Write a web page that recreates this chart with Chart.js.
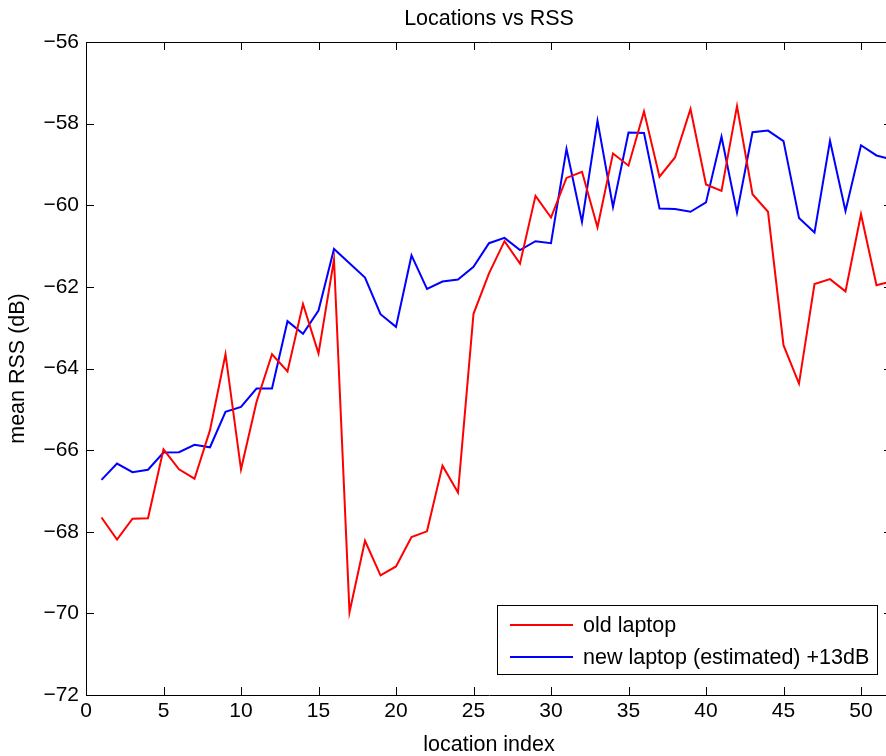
<!DOCTYPE html>
<html><head><meta charset="utf-8">
<script src="https://cdn.jsdelivr.net/npm/chart.js@4"></script>
<style>
html,body{margin:0;padding:0;overflow:hidden;background:#fff;width:886px;height:756px}
canvas{display:block}
</style></head>
<body>
<canvas id="c" width="920" height="756" style="width:920px;height:756px"></canvas>
<script>
const titleText = 'Locations vs RSS';
const xTitle = 'location index';
const yTitle = 'mean RSS (dB)';
const seriesLabels = ['old laptop', 'new laptop (estimated) +13dB'];
const locationIndex = [1,2,3,4,5,6,7,8,9,10,11,12,13,14,15,16,17,18,19,20,21,22,23,24,25,26,27,28,29,30,31,32,33,34,35,36,37,38,39,40,41,42,43,44,45,46,47,48,49,50,51,52];
const oldLaptop = [-67.65,-68.19,-67.68,-67.67,-65.98,-66.47,-66.70,-65.51,-63.65,-66.47,
  -64.82,-63.65,-64.07,-62.42,-63.63,-61.33,-69.97,-68.22,-69.07,-68.85,
  -68.13,-67.99,-66.38,-67.04,-62.66,-61.67,-60.88,-61.43,-59.77,-60.30,
  -59.33,-59.18,-60.54,-58.73,-59.03,-57.70,-59.30,-58.83,-57.64,-59.49,
  -59.65,-57.57,-59.73,-60.16,-63.43,-64.37,-61.93,-61.81,-62.11,-60.22,
  -61.96,-61.86];
const newLaptop = [-66.73,-66.33,-66.54,-66.48,-66.06,-66.05,-65.87,-65.93,-65.06,-64.94,
  -64.49,-64.49,-62.84,-63.15,-62.58,-61.07,-61.42,-61.77,-62.67,-62.98,
  -61.23,-62.05,-61.87,-61.82,-61.51,-60.93,-60.80,-61.10,-60.88,-60.93,
  -58.62,-60.41,-57.93,-60.04,-58.22,-58.23,-60.08,-60.09,-60.16,-59.93,
  -58.32,-60.18,-58.21,-58.17,-58.43,-60.31,-60.67,-58.42,-60.14,-58.53,
  -58.78,-58.88];
const xTicks = [0,5,10,15,20,25,30,35,40,45,50];
const yTicks = [-72,-70,-68,-66,-64,-62,-60,-58,-56];
const seriesColors = ['#ff0000', '#0000ff'];

const FONT = '"Liberation Sans", Arial, Helvetica, sans-serif';
const fmt = v => String(v).replace('-', '\u2212');

const framePlugin = {
  id: 'matlabFrame',
  afterDraw(chart) {
    const {ctx, chartArea: a, scales: {x, y}} = chart;
    ctx.save();
    ctx.strokeStyle = '#000';
    ctx.lineWidth = 1;
    ctx.beginPath();
    ctx.rect(Math.round(a.left) + 0.5, Math.round(a.top) + 0.5, Math.round(a.right - a.left), Math.round(a.bottom - a.top));
    ctx.stroke();
    const tl = 8;
    ctx.beginPath();
    x.ticks.forEach(t => {
      const px = Math.round(x.getPixelForValue(t.value)) + 0.5;
      ctx.moveTo(px, a.bottom); ctx.lineTo(px, a.bottom - tl);
      ctx.moveTo(px, a.top); ctx.lineTo(px, a.top + tl);
    });
    y.ticks.forEach(t => {
      const py = Math.round(y.getPixelForValue(t.value)) + 0.5;
      ctx.moveTo(a.left, py); ctx.lineTo(a.left + tl, py);
      ctx.moveTo(a.right, py); ctx.lineTo(a.right - tl, py);
    });
    ctx.stroke();

    // title
    ctx.fillStyle = '#000';
    ctx.font = '21.5px ' + FONT;
    ctx.textAlign = 'center';
    ctx.textBaseline = 'middle';
    ctx.fillText(titleText, (a.left + a.right) / 2, 19);

    // legend
    const lw = 380, lh = 69;
    const lx = a.right - 395, ly = a.bottom - 90;
    ctx.fillStyle = '#fff';
    ctx.fillRect(lx, ly, lw, lh);
    ctx.strokeStyle = '#000';
    ctx.lineWidth = 1;
    ctx.strokeRect(Math.round(lx) + 0.5, Math.round(ly) + 0.5, lw, lh);
    chart.data.datasets.forEach((ds, i) => {
      const yy = ly + 20 + i * 32;
      ctx.strokeStyle = ds.borderColor;
      ctx.lineWidth = 2;
      ctx.beginPath();
      ctx.moveTo(lx + 13, yy); ctx.lineTo(lx + 76, yy);
      ctx.stroke();
      ctx.fillStyle = '#000';
      ctx.textAlign = 'left';
      ctx.textBaseline = 'middle';
      ctx.font = '21.5px ' + FONT;
      ctx.fillText(ds.label, lx + 86, yy + 1);
    });
    ctx.restore();
  }
};

new Chart(document.getElementById('c'), {
  type: 'line',
  data: {
    datasets: [
      { label: seriesLabels[0], data: locationIndex.map((v, i) => ({x: v, y: oldLaptop[i]})),
        borderColor: seriesColors[0], borderWidth: 2, pointRadius: 0, tension: 0, fill: false },
      { label: seriesLabels[1], data: locationIndex.map((v, i) => ({x: v, y: newLaptop[i]})),
        borderColor: seriesColors[1], borderWidth: 2, pointRadius: 0, tension: 0, fill: false }
    ]
  },
  options: {
    responsive: false,
    devicePixelRatio: 1,
    animation: false,
    layout: { padding: { left: 0, top: 42, right: 28, bottom: 0 } },
    plugins: { legend: { display: false }, title: { display: false }, tooltip: { enabled: false } },
    scales: {
      x: {
        type: 'linear', min: 0, max: 52,
        grid: { display: false, drawTicks: false },
        border: { display: false },
        ticks: { includeBounds: false, padding: 4, color: '#000', font: { family: FONT, size: 21 }, callback: fmt, maxRotation: 0 },
        afterBuildTicks: s => { s.ticks = xTicks.map(v => ({value: v})); },
        afterFit: s => { s.height = 61; },
        title: { display: true, text: xTitle, color: '#000', font: { family: FONT, size: 21.5, lineHeight: 1 }, padding: { top: 0, bottom: 0 } }
      },
      y: {
        type: 'linear', min: -72, max: -56,
        grid: { display: false, drawTicks: false },
        border: { display: false },
        ticks: { includeBounds: false, padding: 7, color: '#000', font: { family: FONT, size: 21 }, callback: fmt },
        afterBuildTicks: s => { s.ticks = yTicks.map(v => ({value: v})); },
        afterFit: s => { s.width = 86; },
        title: { display: true, text: yTitle, color: '#000', font: { family: FONT, size: 21.5, lineHeight: 1 }, padding: { top: 7, bottom: 0 } }
      }
    }
  },
  plugins: [framePlugin]
});
</script>
</body></html>
